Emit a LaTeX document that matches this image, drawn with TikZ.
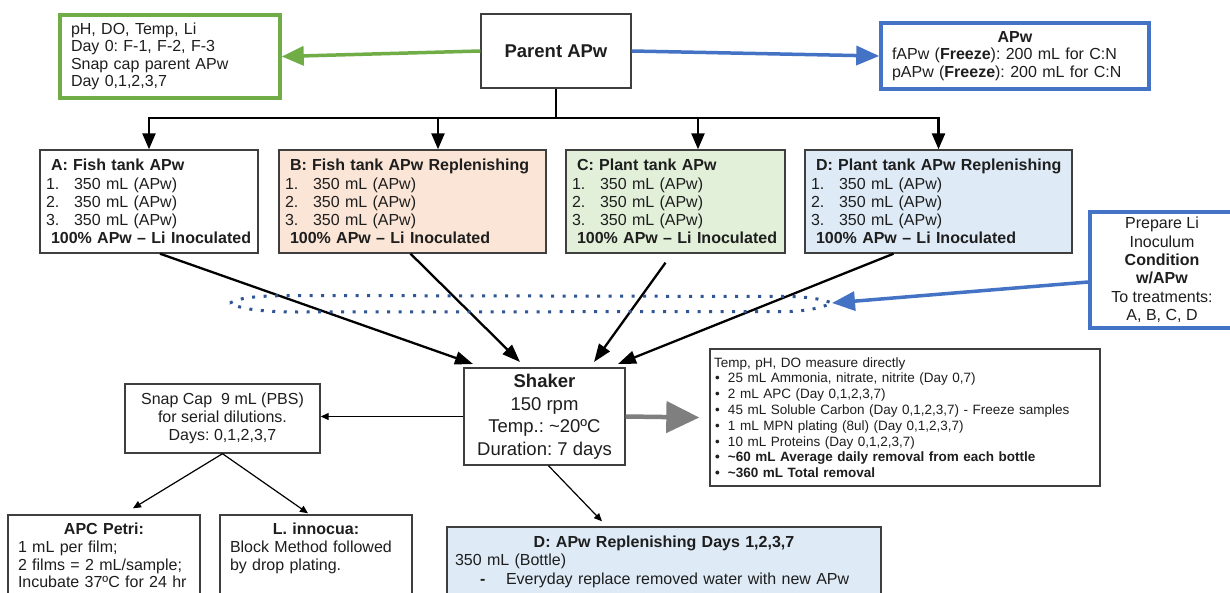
\documentclass[tikz,border=0pt]{standalone}
\usepackage{fontspec}
\setmainfont{Liberation Sans}
\usetikzlibrary{arrows.meta,calc}
\definecolor{grn}{HTML}{70AD47}
\definecolor{blu}{HTML}{4472C4}
\definecolor{dblu}{HTML}{2F5597}
\definecolor{bgray}{HTML}{3F3F3F}
\definecolor{peach}{HTML}{FBE5D6}
\definecolor{lgreen}{HTML}{E2F0D9}
\definecolor{lblue}{HTML}{DEEBF7}
\definecolor{agray}{HTML}{7F7F7F}
\definecolor{txt}{HTML}{1E1E1E}
\newcommand\mybul{\makebox[14pt][l]{\hspace*{1pt}•}}
\newcommand\rowitem[1]{\hspace*{4pt}\makebox[28pt][l]{#1}350 mL (APw)}
\newcommand\rowhead[1]{\hspace*{9pt}\textbf{#1}}
\frenchspacing
\begin{document}
\begin{tikzpicture}[x=1pt,y=-1pt,
  box/.style={draw=bgray, line width=1.4pt, inner xsep=0pt, inner ysep=0pt, text=txt},
  fsixteen/.style={font=\fontsize{16}{17.5}\selectfont},
  frow/.style={font=\fontsize{16}{18.2}\selectfont},
  rowbox/.style={box, minimum height=103pt, align=left, frow},
  garrow/.style={draw=grn, line width=3.5pt, -{Triangle[length=22pt,width=19pt]}},
  barrow/.style={draw=blu, line width=3.5pt, -{Triangle[length=23pt,width=19pt]}},
  bus/.style={draw=black, line width=2.5pt},
  busarrow/.style={draw=black, line width=2.5pt, -{Triangle[length=16pt,width=13pt]}},
  darrow/.style={draw=black, line width=2.3pt, -{Triangle[length=18pt,width=13pt]}},
  tarrow/.style={draw=black, line width=1.2pt, -{Triangle[length=8pt,width=7pt]}},
  grayarrow/.style={draw=agray, line width=4.5pt, -{Triangle[length=33pt,width=31pt]}},
  dotline/.style={draw=dblu, line width=3pt, dash pattern=on 3pt off 8.5pt}]
\useasboundingbox (0,0) rectangle (1230,592);
\clip (0,0) rectangle (1230,592);
\fill[white] (0,0) rectangle (1230,592);

% top row
\node[box, draw=grn, line width=3.5pt, minimum width=220pt, minimum height=83pt,
      text width=198pt, align=left, fsixteen] (obs) at (170,56.5)
  {pH, DO, Temp, Li\\Day 0: F-1, F-2, F-3\\Snap cap parent APw\\Day 0,1,2,3,7};
\node[box, minimum width=150pt, minimum height=74pt,
      font=\fontsize{18.5}{20}\selectfont\bfseries] (parent) at (556,51) {Parent APw};
\node[box, draw=blu, line width=3.5pt, minimum width=268pt, minimum height=66pt,
      text width=246pt, align=left, fsixteen] (apw) at (1015,56)
  {\makebox[246pt]{\textbf{APw}}\\fAPw (\textbf{Freeze}): 200 mL for C:N\\pAPw (\textbf{Freeze}): 200 mL for C:N};

% treatment boxes
\node[rowbox, minimum width=218pt, text width=214pt] (A) at (149,201.5)
  {\rowhead{A: Fish tank APw}\\\rowitem{1.}\\\rowitem{2.}\\\rowitem{3.}\\\rowhead{100\% APw – Li Inoculated}};
\node[rowbox, fill=peach, minimum width=267pt, text width=263pt] (B) at (412.5,201.5)
  {\rowhead{B: Fish tank APw Replenishing}\\\rowitem{1.}\\\rowitem{2.}\\\rowitem{3.}\\\rowhead{100\% APw – Li Inoculated}};
\node[rowbox, fill=lgreen, minimum width=219pt, text width=215pt] (C) at (675.5,201.5)
  {\rowhead{C: Plant tank APw}\\\rowitem{1.}\\\rowitem{2.}\\\rowitem{3.}\\\rowhead{100\% APw – Li Inoculated}};
\node[rowbox, fill=lblue, minimum width=267pt, text width=263pt] (D) at (938.5,201.5)
  {\rowhead{D: Plant tank APw Replenishing}\\\rowitem{1.}\\\rowitem{2.}\\\rowitem{3.}\\\rowhead{100\% APw – Li Inoculated}};

\node[box, draw=blu, line width=3.5pt, minimum width=144pt, minimum height=116pt,
      align=center, font=\fontsize{16}{18.4}\selectfont] (prep) at (1162,270)
  {Prepare Li\\Inoculum\\\textbf{Condition}\\\textbf{w/APw}\\To treatments:\\A, B, C, D};

% middle
\node[box, minimum width=161pt, minimum height=97pt, align=center,
      font=\fontsize{18.5}{22.5}\selectfont] (shaker) at (544.5,416.5)
  {\textbf{Shaker}\\150 rpm\\Temp.: \textasciitilde20ºC\\Duration: 7 days};
\node[box, minimum width=390pt, minimum height=137pt, text width=382pt, align=left,
      font=\fontsize{13.5}{15.8}\selectfont] (meas) at (905,417.5)
  {Temp, pH, DO measure directly\\
   \mybul 25 mL Ammonia, nitrate, nitrite (Day 0,7)\\
   \mybul 2 mL APC (Day 0,1,2,3,7)\\
   \mybul 45 mL Soluble Carbon (Day 0,1,2,3,7) - Freeze samples\\
   \mybul 1 mL MPN plating (8ul) (Day 0,1,2,3,7)\\
   \mybul 10 mL Proteins (Day 0,1,2,3,7)\\
   \textbf{\mybul \textasciitilde60 mL Average daily removal from each bottle}\\
   \textbf{\mybul \textasciitilde360 mL Total removal}};
\node[box, minimum width=195pt, minimum height=69pt, align=center,
      font=\fontsize{16}{18}\selectfont] (snap) at (222.5,418.5)
  {Snap Cap\ \ 9 mL (PBS)\\for serial dilutions.\\Days: 0,1,2,3,7};

% bottom
\node[box, minimum width=192pt, minimum height=81pt, text width=172pt, align=left,
      font=\fontsize{16}{17.8}\selectfont] (apc) at (104,555.5)
  {\makebox[172pt]{\textbf{APC Petri:}}\\1 mL per film;\\2 films = 2 mL/sample;\\Incubate 37ºC for 24 hr};
\node[box, minimum width=192pt, minimum height=81pt, text width=172pt, align=left,
      font=\fontsize{16}{17.8}\selectfont] (linn) at (316,555.5)
  {\makebox[172pt]{\textbf{L. innocua:}}\\Block Method followed\\by drop plating.\\\mbox{}};
\node[box, fill=lblue, minimum width=434pt, minimum height=84pt, text width=418pt, align=left,
      font=\fontsize{16}{18.5}\selectfont] (dapw) at (664,569)
  {\makebox[418pt]{\textbf{D: APw Replenishing Days 1,2,3,7}}\\350 mL (Bottle)\\\hspace*{25pt}\makebox[26pt][l]{\textbf{-}}Everyday replace removed water with new APw\\\mbox{}};

% top connectors
\draw[garrow] (parent.west) -- (obs.east);
\draw[barrow] (parent.east) -- (apw.west);

\coordinate (busc) at (556,118);
\coordinate (bA) at (149,118);
\coordinate (bB) at (438,118);
\coordinate (bC) at (698,118);
\coordinate (bD) at (938.5,118);
\draw[bus] (parent.south) -- (busc);
\draw[bus] ($(bA)+(-1.25,0)$) -- ($(bD)+(1.25,0)$);
\draw[busarrow] (bA) -- (A.north);
\draw[busarrow] (bB) -- (bB |- B.north);
\draw[busarrow] (bC) -- (bC |- C.north);
\draw[busarrow] (bD) -- (D.north);

% treatments to shaker
\coordinate (tA) at (473,364);
\coordinate (tB) at (520,362);
\coordinate (tC) at (594,362);
\coordinate (tD) at (618,364);
\draw[darrow] ($(A.south)+(11,0)$) -- (tA);
\draw[darrow] ($(B.south)+(-2,0)$) -- (tB);
\draw[darrow] ($(C.south)+(-10,9)$) -- (tC);
\draw[darrow] ($(D.south)+(-45,0)$) -- (tD);

% dotted inoculum lens
\coordinate (lensR) at (832,303);
\draw[dotline] (230,303) .. controls (240,297) and (262,295.5) .. (300,295.5)
  -- (790,296.5) .. controls (812,297) and (824,300) .. (lensR)
  .. controls (824,306.5) and (812,310.5) .. (790,311.5)
  -- (300,312) .. controls (262,312) and (240,309) .. (230,303) -- cycle;
\draw[barrow] ($(prep.west)+(0,12)$) -- (lensR);

% shaker outputs
\draw[tarrow] (shaker.west) -- (shaker.west -| snap.east);
\draw[grayarrow] (shaker.east) -- ($(meas.west)+(-10,0)$);
\draw[tarrow] (snap.south) -- ($(apc.north)+(29,-6)$);
\draw[tarrow] (snap.south) -- ($(linn.north)+(-8,-1)$);
\draw[tarrow] ($(shaker.south)+(4,0)$) -- ($(dapw.north)+(-62,-5)$);
\end{tikzpicture}
\end{document}
